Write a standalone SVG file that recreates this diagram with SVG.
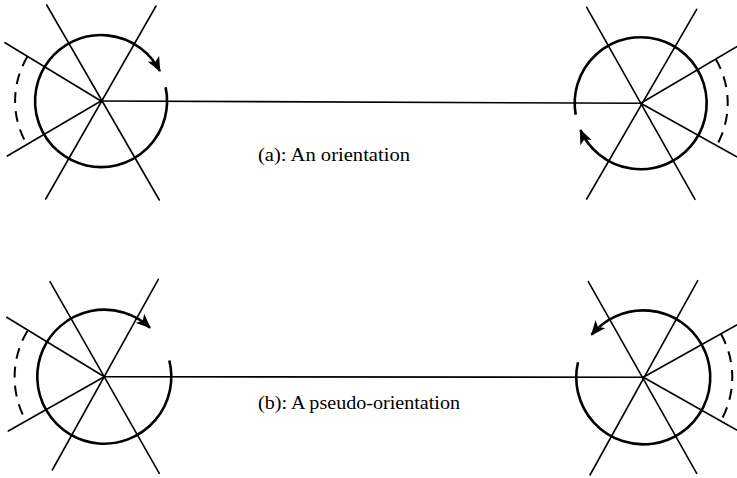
<svg xmlns="http://www.w3.org/2000/svg" width="737" height="478" viewBox="0 0 737 478">
<style>
.ln{stroke:#000;stroke-width:1.6;fill:none;stroke-linecap:round}
.cir{stroke:#000;stroke-width:2.6;fill:none}
.dash{stroke:#000;stroke-width:2;fill:none;stroke-dasharray:11 8}
.lbl{font-family:"Liberation Serif","DejaVu Serif",serif;font-size:18.5px;fill:#000}
</style>
<defs>
<marker id="ah" markerUnits="userSpaceOnUse" markerWidth="15" markerHeight="13" viewBox="0 0 12 10" refX="11" refY="5" orient="auto">
<path d="M0,0 L12,5 L0,10 L3,5 z" fill="#000"/>
</marker>
</defs>
<rect width="737" height="478" fill="#fff"/>
<g id="connectors">
<line class="ln" x1="101" y1="101" x2="640.7" y2="103.3"/>
<line class="ln" x1="104.3" y1="376.7" x2="643.3" y2="377.3"/>
</g>
<g id="node-a-left">
<line class="ln" x1="46.7" y1="5" x2="159.3" y2="200"/>
<line class="ln" x1="156" y1="6" x2="45.7" y2="199"/>
<line class="ln" x1="5" y1="42.7" x2="101" y2="101"/>
<line class="ln" x1="7.3" y1="156" x2="101" y2="101"/>
<path class="cir" d="M165.6,87.3 A66,66 0 1 1 159.8,71" marker-end="url(#ah)"/>
<path class="dash" d="M27.6,56.3 A86,86 0 0 0 26.9,144.5"/>
</g>
<g id="node-a-right">
<line class="ln" x1="586.7" y1="7.3" x2="695" y2="199.3"/>
<line class="ln" x1="696.7" y1="9.3" x2="586.7" y2="199"/>
<line class="ln" x1="640.7" y1="103.3" x2="736.7" y2="46.7"/>
<line class="ln" x1="640.7" y1="103.3" x2="736.7" y2="156.7"/>
<path class="cir" d="M575.7,114.8 A66,66 0 1 1 580.4,130.1" marker-end="url(#ah)"/>
<path class="dash" d="M715.7,59.1 A87,87 0 0 1 716.7,145.6"/>
</g>
<g id="node-b-left">
<line class="ln" x1="50" y1="281.7" x2="159.3" y2="473.3"/>
<line class="ln" x1="158.3" y1="279.3" x2="52.3" y2="470"/>
<line class="ln" x1="6.7" y1="317.3" x2="104.3" y2="376.7"/>
<line class="ln" x1="8.3" y1="431" x2="104.3" y2="376.7"/>
<path class="cir" d="M169.3,360.5 A67,67 0 1 1 150,327.7" marker-end="url(#ah)"/>
<path class="dash" d="M27.4,330.9 A90,90 0 0 0 26,421"/>
</g>
<g id="node-b-right">
<line class="ln" x1="588.3" y1="281.7" x2="696.7" y2="473.3"/>
<line class="ln" x1="697.7" y1="280.7" x2="590" y2="475"/>
<line class="ln" x1="643.3" y1="377.3" x2="736.7" y2="325"/>
<line class="ln" x1="643.3" y1="377.3" x2="736.7" y2="430"/>
<path class="cir" d="M578,362.2 A67,67 0 1 0 591.6,334.7" marker-end="url(#ah)"/>
<path class="dash" d="M721,333.9 A89,89 0 0 1 720.8,421"/>
</g>
<g id="labels">
<text class="lbl" x="258" y="161" textLength="152" lengthAdjust="spacingAndGlyphs">(a): An orientation</text>
<text class="lbl" x="258" y="409" textLength="202" lengthAdjust="spacingAndGlyphs">(b): A pseudo-orientation</text>
</g>
</svg>
